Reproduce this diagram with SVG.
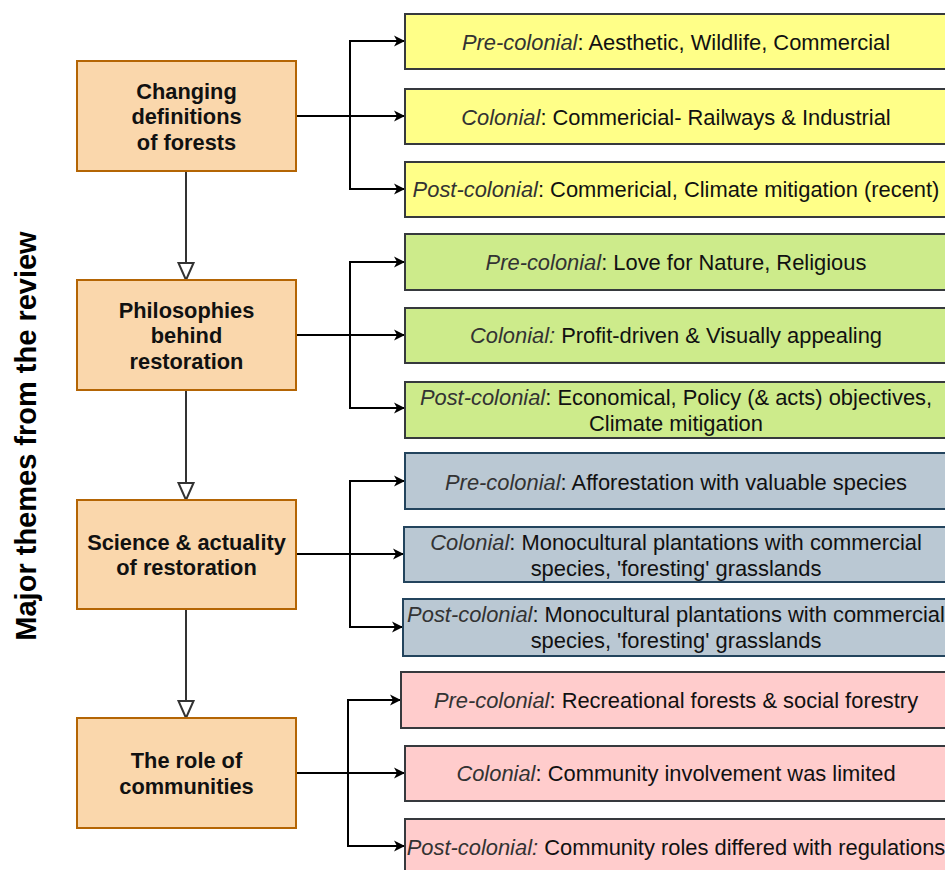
<svg xmlns="http://www.w3.org/2000/svg" width="945" height="870" viewBox="0 0 945 870">
<style>
text{font-family:"Liberation Sans",Arial,sans-serif;fill:#111}
.theme rect{fill:#fad7ac;stroke:#b46504;stroke-width:2}
.theme text{font-size:21.8px;font-weight:bold;text-anchor:middle}
.item text{font-size:21.9px;text-anchor:middle}
.y rect{fill:#ffff88;stroke:#36393d;stroke-width:2}
.g rect{fill:#cdeb8b;stroke:#36393d;stroke-width:2}
.b rect{fill:#bac8d3;stroke:#23445d;stroke-width:2}
.p rect{fill:#ffcccc;stroke:#36393d;stroke-width:2}
.i{font-style:italic;fill:#333}
.h path{fill:none;stroke:#000;stroke-width:2;marker-end:url(#arr)}
.v path{fill:none;stroke:#333;stroke-width:2;marker-end:url(#tri)}
</style>
<defs>
<marker id="arr" markerUnits="userSpaceOnUse" markerWidth="14" markerHeight="14" viewBox="-1 -7 14 14" refX="11" refY="0" orient="auto" overflow="visible">
<path d="M0,-5.5 L11,0 L0,5.5 L3,0 Z" fill="#000"/>
</marker>
<marker id="tri" markerUnits="userSpaceOnUse" markerWidth="20" markerHeight="20" viewBox="-1 -10 20 20" refX="17" refY="0" orient="auto" overflow="visible">
<path d="M0,-7.5 L17,0 L0,7.5 Z" fill="#fff" stroke="#333" stroke-width="2"/>
</marker>
</defs>

<text id="axis-label" transform="translate(36,436) rotate(-90)" style="font-size:29px;font-weight:bold;text-anchor:middle;fill:#000">Major themes from the review</text>

<g id="connectors">
<g class="v">
<path d="M186,171 V280"/>
<path d="M186,390 V500"/>
<path d="M186,609 V718"/>
</g>
<g class="h">
<path d="M296,116 H405"/>
<path d="M350,116 V41 H405"/>
<path d="M350,116 V189 H405"/>
<path d="M296,335 H405"/>
<path d="M350,335 V262 H405"/>
<path d="M350,335 V408 H405"/>
<path d="M296,554 H404"/>
<path d="M350,554 V481 H405"/>
<path d="M350,554 V627 H403"/>
<path d="M296,773 H405"/>
<path d="M348,773 V700 H401"/>
<path d="M348,773 V846 H405"/>
</g>
</g>

<g id="theme-forests" class="theme">
<rect x="77" y="61" width="219" height="110"/>
<text x="186.5" y="98.5">Changing</text>
<text x="186.5" y="124">definitions</text>
<text x="186.5" y="149.5">of forests</text>
</g>
<g id="theme-philosophies" class="theme">
<rect x="77" y="280" width="219" height="110"/>
<text x="186.5" y="317.5">Philosophies</text>
<text x="186.5" y="343">behind</text>
<text x="186.5" y="368.5">restoration</text>
</g>
<g id="theme-science" class="theme">
<rect x="77" y="500" width="219" height="109"/>
<text x="186.5" y="549.5">Science &amp; actuality</text>
<text x="186.5" y="575">of restoration</text>
</g>
<g id="theme-communities" class="theme">
<rect x="77" y="718" width="219" height="110"/>
<text x="186.5" y="767.5">The role of</text>
<text x="186.5" y="793.5">communities</text>
</g>

<g id="forests-pre" class="item y">
<rect x="405" y="14" width="542" height="55"/>
<text x="676" y="49.5"><tspan class="i">Pre-colonial</tspan>: Aesthetic, Wildlife, Commercial</text>
</g>
<g id="forests-col" class="item y">
<rect x="405" y="89" width="542" height="55"/>
<text x="676" y="124.5"><tspan class="i">Colonial</tspan>: Commericial- Railways &amp; Industrial</text>
</g>
<g id="forests-post" class="item y">
<rect x="405" y="162" width="542" height="55"/>
<text x="676" y="197"><tspan class="i">Post-colonial</tspan>: Commericial, Climate mitigation (recent)</text>
</g>

<g id="phil-pre" class="item g">
<rect x="405" y="234" width="542" height="56"/>
<text x="676" y="269.5"><tspan class="i">Pre-colonial</tspan>: Love for Nature, Religious</text>
</g>
<g id="phil-col" class="item g">
<rect x="405" y="308" width="542" height="55"/>
<text x="676" y="343"><tspan class="i">Colonial:</tspan> Profit-driven &amp; Visually appealing</text>
</g>
<g id="phil-post" class="item g">
<rect x="405" y="382" width="542" height="56"/>
<text x="676" y="405"><tspan class="i">Post-colonial</tspan>: Economical, Policy (&amp; acts) objectives,</text>
<text x="676" y="431">Climate mitigation</text>
</g>

<g id="sci-pre" class="item b">
<rect x="405" y="453" width="542" height="56"/>
<text x="676" y="489.5"><tspan class="i">Pre-colonial</tspan>: Afforestation with valuable species</text>
</g>
<g id="sci-col" class="item b">
<rect x="404" y="527" width="543" height="55"/>
<text x="676" y="550"><tspan class="i">Colonial</tspan>: Monocultural plantations with commercial</text>
<text x="676" y="576">species, 'foresting' grasslands</text>
</g>
<g id="sci-post" class="item b">
<rect x="403" y="599" width="544" height="57"/>
<text x="676" y="622"><tspan class="i">Post-colonial</tspan>: Monocultural plantations with commercial</text>
<text x="676" y="648">species, 'foresting' grasslands</text>
</g>

<g id="com-pre" class="item p">
<rect x="401" y="672" width="546" height="56"/>
<text x="676" y="707.5"><tspan class="i">Pre-colonial</tspan>: Recreational forests &amp; social forestry</text>
</g>
<g id="com-col" class="item p">
<rect x="405" y="746" width="542" height="55"/>
<text x="676" y="781"><tspan class="i">Colonial</tspan>: Community involvement was limited</text>
</g>
<g id="com-post" class="item p">
<rect x="405" y="819" width="542" height="60"/>
<text x="676" y="855"><tspan class="i">Post-colonial:</tspan> Community roles differed with regulations</text>
</g>
</svg>
